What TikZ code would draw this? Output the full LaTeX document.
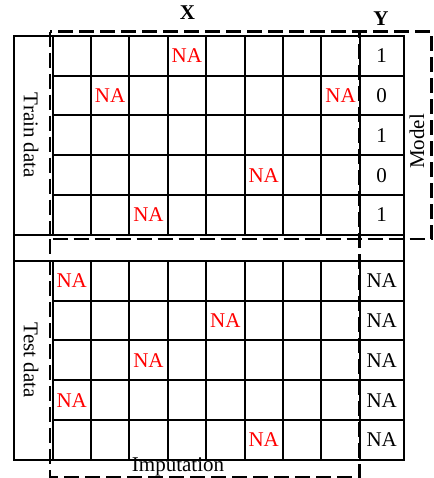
\documentclass[tikz,border=0pt]{standalone}
\usepackage{fontspec}
\setmainfont{Liberation Serif}
\begin{document}
\begin{tikzpicture}[x=1pt,y=-1pt,
  gridline/.style={line width=2pt},
  dbox/.style={line width=2.8pt, dash pattern=on 15pt off 6pt},
  txt/.style={font=\fontsize{21}{24}\selectfont, inner sep=0pt},
  na/.style={txt, text=red},
  hdr/.style={font=\fontsize{21}{24}\selectfont\bfseries, inner sep=0pt}]
\useasboundingbox (0,0) rectangle (433,478);
% outer frame
\draw[gridline] (14,36) rectangle (403.7,459.7);
% separator row
\draw[gridline] (14,234.7) -- (403.7,234.7);
\draw[gridline] (14,261) -- (403.7,261);
% grids
\foreach \k in {1,...,4} {
  \draw[gridline] (52.5,36+\k*39.74) -- (403.7,36+\k*39.74);
  \draw[gridline] (52.5,261+\k*39.74) -- (403.7,261+\k*39.74);
}
\foreach \k in {0,...,8} {
  \draw[gridline] (52.5+\k*38.4,36) -- (52.5+\k*38.4,234.7);
  \draw[gridline] (52.5+\k*38.4,261) -- (52.5+\k*38.4,459.7);
}
% headers
\node[hdr] (X) at (187.5,12.5) {X};
\node[hdr] (Y) at (381,18.5) {Y};
% side labels
\node[txt, rotate=-90] (train) at (31,135.4) {Train data};
\node[txt, rotate=-90] (test) at (31,360.4) {Test data};
\node[txt, rotate=90] (model) at (417,141.5) {Model};
\node[txt, anchor=base] (imp) at (178,471.5) {Imputation};
% train NA
\node[na] (t1) at (186.9,56) {NA};
\node[na] (t2) at (110.1,95.7) {NA};
\node[na] (t3) at (340.5,95.7) {NA};
\node[na] (t4) at (263.7,175.2) {NA};
\node[na] (t5) at (148.5,214.9) {NA};
% Y values
\node[txt] (y1) at (381.7,56) {1};
\node[txt] (y2) at (381.7,95.7) {0};
\node[txt] (y3) at (381.7,135.4) {1};
\node[txt] (y4) at (381.7,175.2) {0};
\node[txt] (y5) at (381.7,214.9) {1};
% test NA
\node[na] (s1) at (71.7,281) {NA};
\node[na] (s2) at (225.3,320.6) {NA};
\node[na] (s3) at (148.5,360.4) {NA};
\node[na] (s4) at (71.7,400.1) {NA};
\node[na] (s5) at (263.7,439.8) {NA};
\foreach \r in {0,...,4} {
  \node[txt] (ty\r) at (381.7,281+\r*39.74) {NA};
}
% dashed boxes
\draw[dbox] (50,31.7) rectangle (431.5,239);
\draw[dbox] (50,239) -- (50,477) -- (359.7,477) -- (359.7,31.7);
\end{tikzpicture}
\end{document}
